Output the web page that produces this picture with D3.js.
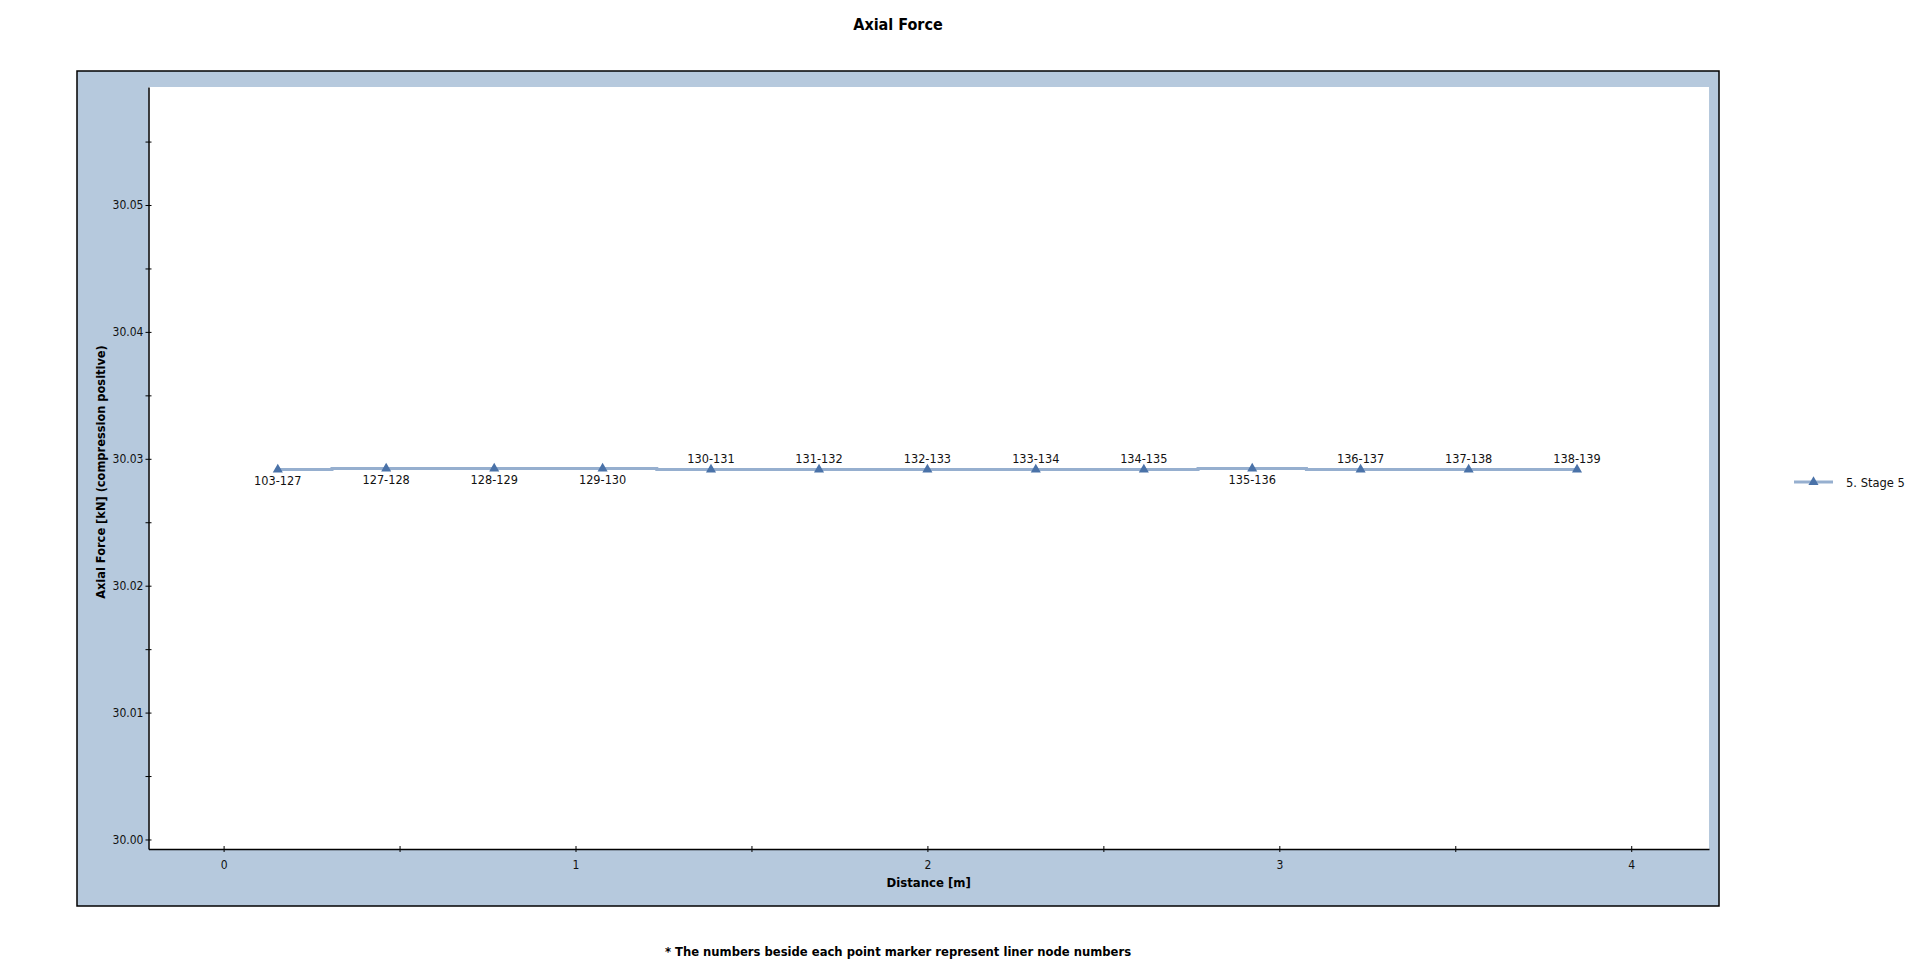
<!DOCTYPE html>
<html lang="en">
	<head>
		<meta charset="utf-8">
		<title>Axial Force</title>
		<script type="text/javascript" src="https://cdn.jsdelivr.net/npm/d3@7"></script>
		<style type="text/css">
			body {
				margin: 0;
				background: white;
			}
			text {
				font-family: "DejaVu Sans Condensed", "DejaVu Sans", sans-serif;
				font-stretch: condensed;
			}
		</style>
	</head>
	<body>
		<script type="text/javascript">

			//Data: distance along liner [m], axial force [kN], node labels
			var distances = [0.154, 0.462, 0.769, 1.077, 1.385, 1.692, 2.000, 2.308, 2.615, 2.923, 3.231, 3.538, 3.846];
			var forces = [30.02915, 30.02923, 30.02923, 30.02923, 30.02915, 30.02915, 30.02915, 30.02915, 30.02915, 30.02923, 30.02915, 30.02915, 30.02915];
			var nodeLabels = ["103-127", "127-128", "128-129", "129-130", "130-131", "131-132", "132-133",
							  "133-134", "134-135", "135-136", "136-137", "137-138", "138-139"];
			var labelBelow = [true, true, true, true, false, false, false, false, false, true, false, false, false];
			var seriesName = "5. Stage 5";

			var xTicks = [0, 1, 2, 3, 4];
			var xMinorTicks = [0.5, 1.5, 2.5, 3.5];
			var yTicks = [30.00, 30.01, 30.02, 30.03, 30.04, 30.05];
			var yMinorTicks = [30.005, 30.015, 30.025, 30.035, 30.045, 30.055];

			var w = 1916;
			var h = 969;

			var frame = { x: 77, y: 71, w: 1642, h: 835 };
			var plot = { left: 148.5, right: 1709, top: 87, bottom: 849 };

			var xScale = d3.scaleLinear()
							.domain([-0.2134, 4.221])
							.range([plot.left, plot.right]);

			var yScale = d3.scaleLinear()
							.domain([29.99925, 30.0593])
							.range([plot.bottom, plot.top]);

			var svg = d3.select("body")
						.append("svg")
						.attr("width", w)
						.attr("height", h);

			//Title
			svg.append("text")
			   .attr("x", 898)
			   .attr("y", 30)
			   .attr("text-anchor", "middle")
			   .attr("font-size", "16px")
			   .attr("font-weight", "bold")
			   .text("Axial Force");

			//Blue frame and white plot area
			svg.append("rect")
			   .attr("x", frame.x)
			   .attr("y", frame.y)
			   .attr("width", frame.w)
			   .attr("height", frame.h)
			   .attr("fill", "#b6c9dd")
			   .attr("stroke", "black")
			   .attr("stroke-width", 1.5);

			svg.append("rect")
			   .attr("x", plot.left)
			   .attr("y", plot.top)
			   .attr("width", plot.right - plot.left)
			   .attr("height", plot.bottom - plot.top)
			   .attr("fill", "white");

			//Y axis
			var yAxis = svg.append("g")
						   .attr("transform", "translate(" + plot.left + ",0)")
						   .call(d3.axisLeft(yScale)
								   .tickValues(yTicks)
								   .tickFormat(d3.format(".2f"))
								   .tickSize(3)
								   .tickSizeOuter(0));
			var yMinor = svg.append("g")
							.attr("transform", "translate(" + plot.left + ",0)")
							.call(d3.axisLeft(yScale)
									.tickValues(yMinorTicks)
									.tickFormat("")
									.tickSize(3)
									.tickSizeOuter(0));
			yMinor.select(".domain").remove();

			//X axis
			var xAxis = svg.append("g")
						   .attr("transform", "translate(0," + plot.bottom + ")")
						   .call(d3.axisBottom(xScale)
								   .tickValues(xTicks)
								   .tickFormat(d3.format("d"))
								   .tickSize(3)
								   .tickSizeOuter(0));
			var xMinor = svg.append("g")
							.attr("transform", "translate(0," + plot.bottom + ")")
							.call(d3.axisBottom(xScale)
									.tickValues(xMinorTicks)
									.tickFormat("")
									.tickSize(3)
									.tickSizeOuter(0));
			xMinor.select(".domain").remove();

			//Ticks cross the axis line
			svg.selectAll(".tick line")
			   .attr("stroke", "black");
			yAxis.selectAll(".tick line").attr("x1", 3);
			yMinor.selectAll(".tick line").attr("x1", 3);
			xAxis.selectAll(".tick line").attr("y1", -3);
			xMinor.selectAll(".tick line").attr("y1", -3);

			svg.selectAll(".domain")
			   .attr("stroke", "black")
			   .attr("stroke-width", 1.5);

			yAxis.selectAll(".tick text")
				 .attr("x", -5)
				 .attr("font-size", "12px")
				 .attr("font-family", null)
				 .attr("fill", "#111");
			xAxis.selectAll(".tick text")
				 .attr("y", 11)
				 .attr("font-size", "12px")
				 .attr("font-family", null)
				 .attr("fill", "#111");

			//Axis titles
			svg.append("text")
			   .attr("x", (plot.left + plot.right) / 2)
			   .attr("y", 887)
			   .attr("text-anchor", "middle")
			   .attr("font-size", "13px")
			   .attr("font-weight", "bold")
			   .text("Distance [m]");

			svg.append("text")
			   .attr("transform", "translate(105,472) rotate(-90)")
			   .attr("text-anchor", "middle")
			   .attr("font-size", "12.7px")
			   .attr("font-weight", "bold")
			   .text("Axial Force [kN] (compression positive)");

			//Stepped line
			var line = d3.line()
						 .x(function(d, i) { return xScale(distances[i]); })
						 .y(function(d) { return yScale(d); })
						 .curve(d3.curveStep);

			svg.append("path")
			   .datum(forces)
			   .attr("d", line)
			   .attr("fill", "none")
			   .attr("stroke", "#96afcf")
			   .attr("stroke-width", 3);

			//Markers
			var tri = d3.symbol().type(d3.symbolTriangle).size(44);

			svg.selectAll("path.marker")
			   .data(forces)
			   .enter()
			   .append("path")
			   .attr("class", "marker")
			   .attr("d", tri)
			   .attr("transform", function(d, i) {
			   		return "translate(" + xScale(distances[i]) + "," + yScale(d) + ")";
			   })
			   .attr("fill", "#4a72a8");

			//Node labels
			svg.selectAll("text.node")
			   .data(nodeLabels)
			   .enter()
			   .append("text")
			   .attr("class", "node")
			   .text(function(d) { return d; })
			   .attr("text-anchor", "middle")
			   .attr("x", function(d, i) { return xScale(distances[i]); })
			   .attr("y", function(d, i) {
			   		return yScale(forces[i]) + (labelBelow[i] ? 15.8 : -6.6);
			   })
			   .attr("font-size", "12.6px")
			   .attr("fill", "#111");

			//Legend
			var legend = svg.append("g")
							.attr("transform", "translate(1794,482)");
			legend.append("line")
				  .attr("x1", 0)
				  .attr("x2", 39)
				  .attr("stroke", "#96afcf")
				  .attr("stroke-width", 3);
			legend.append("path")
				  .attr("d", tri)
				  .attr("transform", "translate(19.5,0)")
				  .attr("fill", "#4a72a8");
			legend.append("text")
				  .attr("x", 52)
				  .attr("y", 4.5)
				  .attr("font-size", "12.8px")
				  .attr("fill", "#111")
				  .text(seriesName);

			//Footnote
			svg.append("text")
			   .attr("x", 898)
			   .attr("y", 956)
			   .attr("text-anchor", "middle")
			   .attr("font-size", "12.9px")
			   .attr("font-weight", "bold")
			   .text("* The numbers beside each point marker represent liner node numbers");

		</script>
	</body>
</html>
